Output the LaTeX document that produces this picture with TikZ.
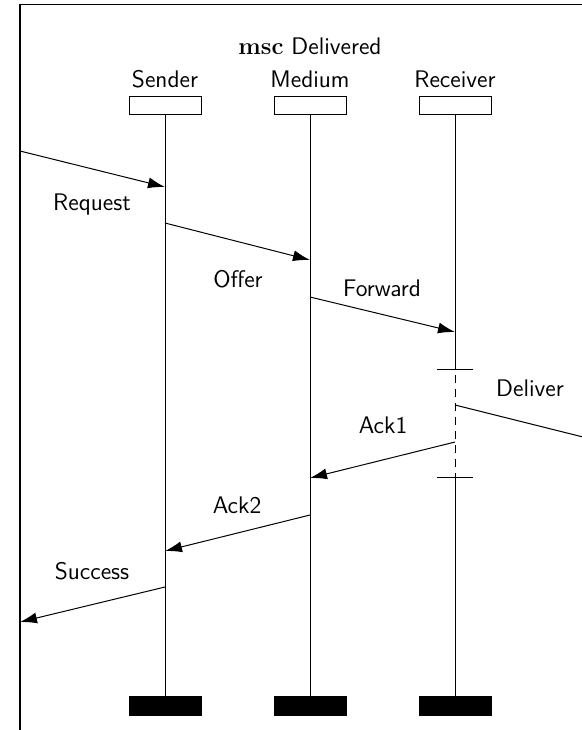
\documentclass[tikz,border=0pt]{standalone}
\usetikzlibrary{arrows.meta}
\begin{document}
\begin{tikzpicture}[x=0.5pt,y=-0.5pt,
  font=\sffamily\fontsize{12}{14}\selectfont,
  headbox/.style={draw, line width=0.5pt, minimum width=36pt, minimum height=9pt, inner sep=0pt},
  endbox/.style={draw, fill=black, minimum width=36pt, minimum height=9.5pt, inner sep=0pt},
  lifeline/.style={line width=0.5pt},
  coregion/.style={line width=0.5pt, dash pattern=on 4pt off 3pt, dash phase=-3pt},
  msg/.style={line width=0.5pt, -{Latex[length=8.5pt,width=5.5pt]}},
  lbl/.style={inner sep=0pt}]
\useasboundingbox (0,0) rectangle (582,730);
\clip (0,0) rectangle (582,730);

% msc frame
\draw[line width=0.6pt] (20,4.7) rectangle (720,800);
\node (title) at (310,46) {{\rmfamily\bfseries msc} Delivered};

% instance names and heads
\node (sname) at (165,79) {Sender};
\node (mname) at (310,79) {Medium};
\node (rname) at (455,79) {Receiver};
\node[headbox] (sh) at (165,105) {};
\node[headbox] (mh) at (310,105) {};
\node[headbox] (rh) at (455,105) {};

% instance ends
\node[endbox] (se) at (165,705.5) {};
\node[endbox] (me) at (310,705.5) {};
\node[endbox] (re) at (455,705.5) {};

% lifelines
\draw[lifeline] (sh.south) -- (se.north);
\draw[lifeline] (mh.south) -- (me.north);
\coordinate (rc1) at (455,369);
\coordinate (rc2) at (455,477);
\draw[lifeline] (rh.south) -- (rc1);
\draw[coregion] (rc1) -- (rc2);
\draw[lifeline] (rc2) -- (re.north);
\draw[lifeline] ([xshift=-9pt]rc1) -- ([xshift=9pt]rc1);
\draw[lifeline] ([xshift=-9pt]rc2) -- ([xshift=9pt]rc2);

% message end points
\coordinate (g1) at (20,151);
\coordinate (s1) at (165,187);
\coordinate (s2) at (165,223);
\coordinate (m2) at (310,260);
\coordinate (m3) at (310,297);
\coordinate (r3) at (455,332);
\coordinate (r4) at (455,405);
\coordinate (g4) at (655,455);
\coordinate (r5) at (455,442);
\coordinate (m5) at (310,478);
\coordinate (m6) at (310,515);
\coordinate (s6) at (165,551);
\coordinate (s7) at (165,587);
\coordinate (g7) at (20,622);

% messages
\draw[msg] (g1) -- (s1);
\draw[msg] (s2) -- (m2);
\draw[msg] (m3) -- (r3);
\draw[msg] (r4) -- (g4);
\draw[msg] (r5) -- (m5);
\draw[msg] (m6) -- (s6);
\draw[msg] (s7) -- (g7);

% message labels
\node[lbl] (l1) at (92,204) {Request};
\node[lbl] (l2) at (238,279) {Offer};
\node[lbl] (l3) at (382,288) {Forward};
\node[lbl] (l4) at (530,388) {Deliver};
\node[lbl] (l5) at (383,425) {Ack1};
\node[lbl] (l6) at (237,505) {Ack2};
\node[lbl] (l7) at (92,571) {Success};
\end{tikzpicture}
\end{document}
